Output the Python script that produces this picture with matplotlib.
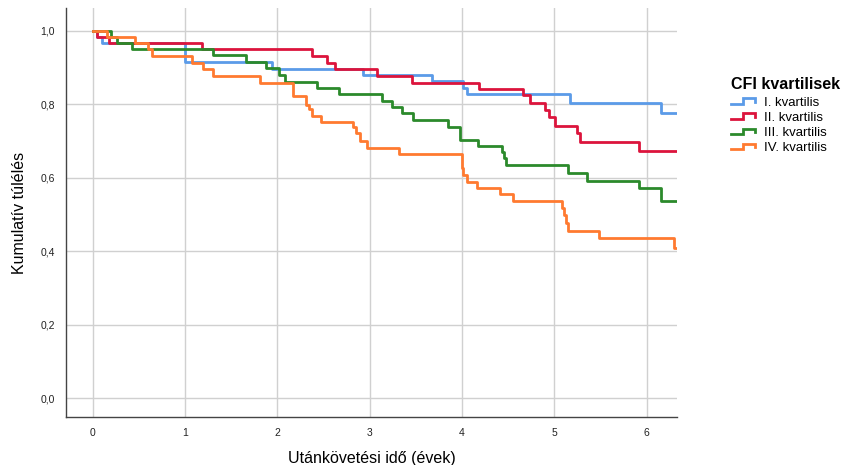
import matplotlib
matplotlib.use("Agg")
import matplotlib.pyplot as plt
from matplotlib.lines import Line2D
from matplotlib.legend_handler import HandlerBase

plt.rcParams['font.family'] = ['Liberation Sans', 'DejaVu Sans']

# ---- data ----
series_labels = ["I. kvartilis", "II. kvartilis", "III. kvartilis", "IV. kvartilis"]
legend_title = "CFI kvartilisek"

t_q1 = [0, 0.05, 0.10, 1.00, 1.94, 2.93, 3.68, 4.01, 4.05, 5.17, 6.16, 6.33]
s_q1 = [1.0, 0.984, 0.967, 0.916, 0.896, 0.880, 0.865, 0.845, 0.828, 0.805, 0.777, 0.777]

t_q2 = [0, 0.05, 0.18, 1.18, 2.37, 2.54, 2.62, 3.08, 3.46, 4.18, 4.66, 4.74, 4.90, 4.94,
        5.01, 5.25, 5.28, 5.92, 6.33]
s_q2 = [1.0, 0.984, 0.967, 0.950, 0.932, 0.913, 0.896, 0.877, 0.859, 0.842, 0.826, 0.804,
        0.785, 0.766, 0.741, 0.722, 0.698, 0.673, 0.673]

t_q3 = [0, 0.20, 0.26, 0.42, 1.30, 1.66, 1.88, 2.02, 2.08, 2.43, 2.67, 3.13, 3.24, 3.35,
        3.47, 3.85, 3.98, 4.17, 4.43, 4.46, 4.48, 5.15, 5.35, 5.92, 6.16, 6.33]
s_q3 = [1.0, 0.984, 0.967, 0.950, 0.935, 0.916, 0.900, 0.880, 0.861, 0.845, 0.828, 0.810,
        0.793, 0.776, 0.757, 0.739, 0.703, 0.687, 0.670, 0.654, 0.635, 0.613, 0.591, 0.572,
        0.537, 0.537]

t_q4 = [0, 0.15, 0.46, 0.60, 0.64, 1.08, 1.19, 1.30, 1.81, 2.17, 2.31, 2.34, 2.38, 2.47,
        2.82, 2.85, 2.90, 2.97, 3.32, 4.00, 4.01, 4.06, 4.16, 4.41, 4.55, 5.08, 5.11, 5.13,
        5.15, 5.49, 6.30, 6.33]
s_q4 = [1.0, 0.984, 0.967, 0.950, 0.931, 0.913, 0.896, 0.877, 0.858, 0.823, 0.798, 0.787,
        0.768, 0.752, 0.738, 0.722, 0.700, 0.681, 0.665, 0.627, 0.608, 0.589, 0.572, 0.556,
        0.537, 0.518, 0.499, 0.477, 0.455, 0.436, 0.410, 0.410]

x_ticks = [0, 1, 2, 3, 4, 5, 6]
y_ticks = [0.0, 0.2, 0.4, 0.6, 0.8, 1.0]
y_tick_labels = ["0,0", "0,2", "0,4", "0,6", "0,8", "1,0"]

colors = ["#5b9be8", "#dc143c", "#2b8a2b", "#ff7a30"]

# ---- figure ----
fig = plt.figure(figsize=(8.47, 4.65), dpi=100)
ax = fig.add_axes([66/847, 1 - 417/465, (677-66)/847, (417-8)/465])

for t, s, c, lab in zip([t_q1, t_q2, t_q3, t_q4], [s_q1, s_q2, s_q3, s_q4], colors, series_labels):
    ax.step(t, s, where='post', color=c, lw=2.0, label=lab, zorder=3)

ax.set_xlim(-0.29, 6.33)
ax.set_ylim(1 - (417-31)/367, 1 + 23/367)
ax.set_xticks(x_ticks)
ax.set_xticklabels([str(v) for v in x_ticks])
ax.set_yticks(y_ticks)
ax.set_yticklabels(y_tick_labels)
ax.grid(True, color="#d0d0d0", lw=1.0, zorder=0)
ax.tick_params(length=0, labelsize=7.5, colors="#222222", pad=8)
for sp in ["top", "right"]:
    ax.spines[sp].set_visible(False)
for sp in ["left", "bottom"]:
    ax.spines[sp].set_color("#444444")
    ax.spines[sp].set_linewidth(1.0)

ax.set_xlabel("Utánkövetési idő (évek)", fontsize=11.5, labelpad=9)
ax.set_ylabel("Kumulatív túlélés", fontsize=11.5, labelpad=10)


class StepHandler(HandlerBase):
    def create_artists(self, legend, orig_handle, xdescent, ydescent, width, height,
                       fontsize, trans):
        x0 = -xdescent
        y0 = -ydescent
        xs = [x0, x0 + 0.45*width, x0 + 0.45*width, x0 + 0.88*width, x0 + 0.88*width]
        ys = [y0 + 0.2*height, y0 + 0.2*height, y0 + 0.8*height, y0 + 0.8*height, y0 + 0.45*height]
        ln = Line2D(xs, ys, color=orig_handle.get_color(), lw=2.0, solid_joinstyle='miter')
        ln.set_transform(trans)
        return [ln]


handles = ax.get_lines()
leg = fig.legend(handles, series_labels, title=legend_title,
                 loc="upper left", bbox_to_anchor=(726/847, 1 - 72/465),
                 frameon=False, fontsize=9.5, handlelength=2.0, handletextpad=0.5,
                 labelspacing=0.22, borderaxespad=0,
                 title_fontproperties={'weight': 'bold', 'size': 11.5},
                 handler_map={Line2D: StepHandler()})
leg._legend_box.align = "left"
leg._legend_box.sep = 3

fig.savefig("out.png", dpi=100)
